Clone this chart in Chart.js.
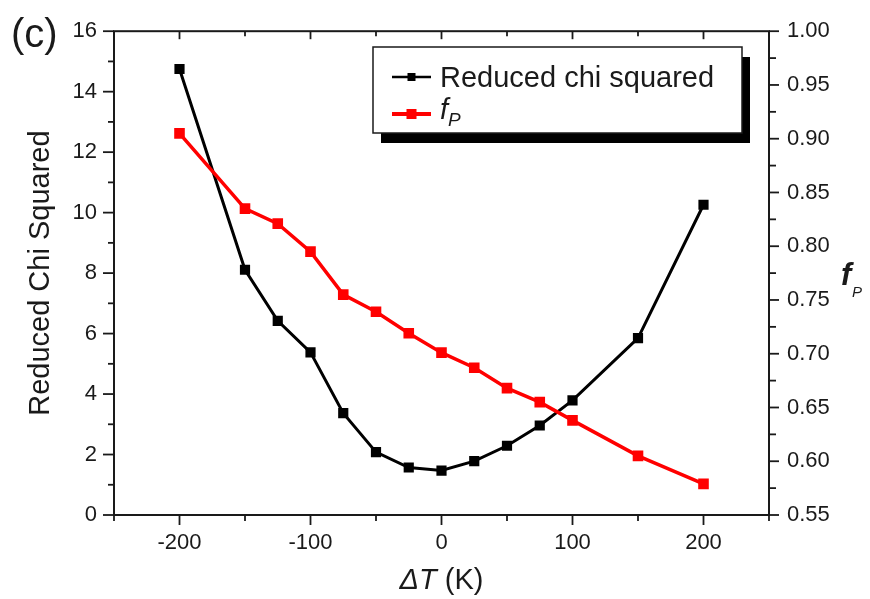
<!DOCTYPE html>
<html>
<head>
<meta charset="utf-8">
<script src="https://cdn.jsdelivr.net/npm/chart.js@4/dist/chart.umd.min.js"></script>
<style>
  html, body { margin: 0; padding: 0; background: #fff; }
  #wrap { width: 870px; height: 599px; }
</style>
</head>
<body>
<div id="wrap"><canvas id="c" width="870" height="599"></canvas></div>
<script>
// Temperature offset of the fit (K)
const deltaT = [-200, -150, -125, -100, -75, -50, -25, 0, 25, 50, 75, 100, 150, 200];
// Reduced chi squared of each fit (left axis)
const chiSquared = [14.75, 8.11, 6.42, 5.38, 3.37, 2.08, 1.57, 1.47, 1.78, 2.29, 2.96, 3.79, 5.85, 10.26];
// Fitted fraction f_P (right axis)
const fP = [0.905, 0.835, 0.821, 0.795, 0.755, 0.739, 0.719, 0.701, 0.687, 0.668, 0.655, 0.638, 0.605, 0.579];

// Axis ranges and tick sets
const xRange = [-250, 250];
const xMajor = [-200, -100, 0, 100, 200];
const xMinor = [-250, -150, -50, 50, 150, 250];
const yRange = [0, 16];
const yMajor = [0, 2, 4, 6, 8, 10, 12, 14, 16];
const yMinor = [1, 3, 5, 7, 9, 11, 13, 15];
const y1Range = [0.55, 1.00];
const y1Major = [0.55, 0.60, 0.65, 0.70, 0.75, 0.80, 0.85, 0.90, 0.95, 1.00];
const y1Minor = [0.575, 0.625, 0.675, 0.725, 0.775, 0.825, 0.875, 0.925, 0.975];

const FONT = '"Liberation Sans", Arial, sans-serif';
const INK = '#1a1a1a';

const blackPts = deltaT.map((t, i) => ({ x: t, y: chiSquared[i] }));
const redPts = deltaT.map((t, i) => ({ x: t, y: fP[i] }));

// Frame, tick marks, titles and the boxed legend
const decorations = {
  id: 'decorations',
  afterDatasetsDraw(chart) {
    const ctx = chart.ctx;
    const { left, right, top, bottom } = chart.chartArea;
    const sx = chart.scales.x, sy = chart.scales.y, sy1 = chart.scales.y1;
    ctx.save();
    ctx.strokeStyle = INK;
    ctx.lineWidth = 2;
    ctx.strokeRect(left, top, right - left, bottom - top);

    ctx.lineWidth = 1.8;
    const line = (x1, y1, x2, y2) => { ctx.beginPath(); ctx.moveTo(x1, y1); ctx.lineTo(x2, y2); ctx.stroke(); };
    xMajor.forEach(v => { const p = sx.getPixelForValue(v); line(p, bottom, p, bottom + 10); line(p, top, p, top + 8); });
    xMinor.forEach(v => { const p = sx.getPixelForValue(v); line(p, bottom, p, bottom + 6); line(p, top, p, top + 5); });
    yMajor.forEach(v => { const p = sy.getPixelForValue(v); line(left - 11, p, left, p); });
    yMinor.forEach(v => { const p = sy.getPixelForValue(v); line(left - 6, p, left, p); });
    y1Major.forEach(v => { const p = sy1.getPixelForValue(v); line(right, p, right + 10, p); });
    y1Minor.forEach(v => { const p = sy1.getPixelForValue(v); line(right, p, right + 7, p); });

    ctx.fillStyle = INK;
    // panel letter
    ctx.font = '40px ' + FONT;
    ctx.textAlign = 'left';
    ctx.textBaseline = 'middle';
    ctx.fillText('(c)', 11, 36);

    // left axis title
    ctx.save();
    ctx.translate(41, (top + bottom) / 2);
    ctx.rotate(-Math.PI / 2);
    ctx.font = '29px ' + FONT;
    ctx.textAlign = 'center';
    ctx.textBaseline = 'middle';
    ctx.fillText('Reduced Chi Squared', 0, 0);
    ctx.restore();

    // bottom axis title: italic ΔT followed by (K)
    const cx = sx.getPixelForValue(0);
    ctx.textBaseline = 'alphabetic';
    ctx.font = 'italic 29px ' + FONT;
    const w1 = ctx.measureText('\u0394T ').width;
    ctx.font = '29px ' + FONT;
    const w2 = ctx.measureText('(K)').width;
    let x0 = cx - (w1 + w2) / 2;
    ctx.font = 'italic 29px ' + FONT;
    ctx.fillText('\u0394T ', x0, 589);
    ctx.font = '29px ' + FONT;
    ctx.fillText('(K)', x0 + w1, 589);

    // right axis title f_P
    ctx.font = 'italic bold 31px ' + FONT;
    ctx.fillText('f', 841, 285);
    ctx.font = 'italic 15px ' + FONT;
    ctx.fillText('P', 852, 297);

    // legend box with drop shadow
    const bx = 373, by = 47, bw = 369, bh = 86;
    ctx.fillStyle = '#000';
    ctx.fillRect(bx + 8, by + 10, bw, bh);
    ctx.fillStyle = '#fff';
    ctx.fillRect(bx, by, bw, bh);
    ctx.lineWidth = 1.5;
    ctx.strokeStyle = INK;
    ctx.strokeRect(bx, by, bw, bh);

    const ds = chart.data.datasets;
    const rows = [{ d: ds[1], y: 77, lw: 2.4, m: 8 }, { d: ds[0], y: 114, lw: 4, m: 10 }];
    rows.forEach(r => {
      ctx.strokeStyle = r.d.borderColor;
      ctx.lineWidth = r.lw;
      line(392, r.y, 431, r.y);
      ctx.fillStyle = r.d.borderColor;
      ctx.fillRect(411.5 - r.m / 2, r.y - r.m / 2, r.m, r.m);
    });
    ctx.fillStyle = INK;
    ctx.textBaseline = 'alphabetic';
    ctx.font = '29px ' + FONT;
    ctx.fillText(ds[1].label, 440, 87);
    ctx.font = 'italic 29px ' + FONT;
    ctx.fillText('f', 440, 119);
    ctx.font = 'italic 19px ' + FONT;
    ctx.fillText('P', 448, 126);
    ctx.restore();
  }
};

new Chart(document.getElementById('c'), {
  type: 'line',
  data: {
    datasets: [
      {
        label: 'fP',
        data: redPts,
        yAxisID: 'y1',
        borderColor: '#ff0000',
        backgroundColor: '#ff0000',
        borderWidth: 3.5,
        pointStyle: 'rect',
        pointRadius: 7.5,
        pointHoverRadius: 7.5,
        pointBorderWidth: 0,
        tension: 0,
        order: 0
      },
      {
        label: 'Reduced chi squared',
        data: blackPts,
        yAxisID: 'y',
        borderColor: '#000000',
        backgroundColor: '#000000',
        borderWidth: 3,
        pointStyle: 'rect',
        pointRadius: 7.2,
        pointHoverRadius: 7.2,
        pointBorderWidth: 0,
        tension: 0,
        order: 1
      }
    ]
  },
  options: {
    responsive: false,
    animation: false,
    devicePixelRatio: 1,
    layout: { padding: { top: 29, left: 0, right: 0, bottom: 0 } },
    plugins: { legend: { display: false }, tooltip: { enabled: false } },
    scales: {
      x: {
        type: 'linear',
        position: 'bottom',
        min: xRange[0],
        max: xRange[1],
        grid: { display: false, drawTicks: false },
        border: { display: false },
        afterBuildTicks(s) { s.ticks = xMajor.map(v => ({ value: v })); },
        afterFit(s) { s.height = 84; },
        ticks: {
          color: INK,
          padding: 15,
          maxRotation: 0,
          font: { family: FONT, size: 22 },
          callback: v => String(v)
        }
      },
      y: {
        type: 'linear',
        position: 'left',
        min: yRange[0],
        max: yRange[1],
        grid: { display: false, drawTicks: false },
        border: { display: false },
        afterBuildTicks(s) { s.ticks = yMajor.map(v => ({ value: v })); },
        afterFit(s) { s.width = 114; },
        ticks: {
          color: INK,
          padding: 17,
          font: { family: FONT, size: 22 },
          callback: v => String(v)
        }
      },
      y1: {
        type: 'linear',
        position: 'right',
        min: y1Range[0],
        max: y1Range[1],
        grid: { display: false, drawTicks: false },
        border: { display: false },
        afterBuildTicks(s) { s.ticks = y1Major.map(v => ({ value: v })); },
        afterFit(s) { s.width = 101; },
        ticks: {
          color: INK,
          padding: 18,
          font: { family: FONT, size: 22 },
          callback: v => v.toFixed(2)
        }
      }
    }
  },
  plugins: [decorations]
});
</script>
</body>
</html>
